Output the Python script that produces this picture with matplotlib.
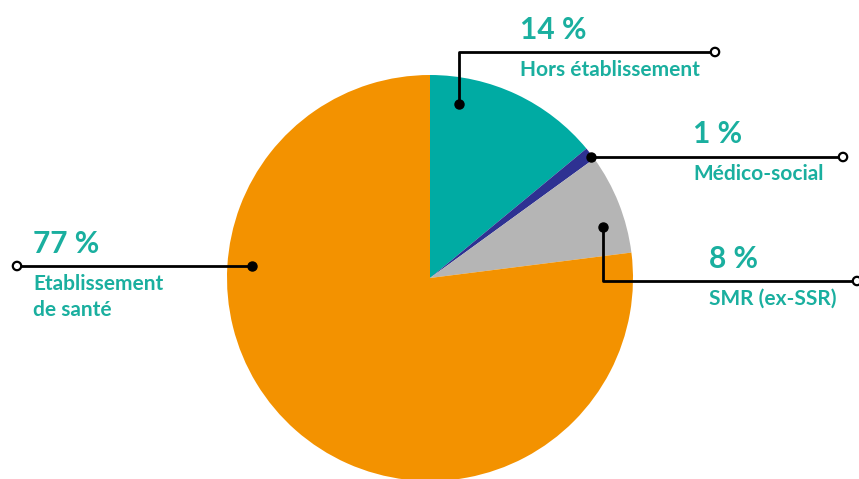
import matplotlib.pyplot as plt
from matplotlib.patches import Circle

# Données
categories = ["Hors établissement", "Médico-social", "SMR (ex-SSR)", "Etablissement\nde santé"]
parts = [14, 1, 8, 77]
couleurs = ["#00aba3", "#2e3192", "#b5b5b5", "#f39200"]

W, H = 859, 479
texte_col = "#1aaf9f"

fig = plt.figure(figsize=(W / 100, H / 100), dpi=100)
ax = fig.add_axes([0, 0, 1, 1])
ax.set_aspect("equal")

cx, cy, r = 430, H - 278, 203
ax.pie(parts, colors=couleurs, startangle=90, counterclock=False,
       center=(cx, cy), radius=r, frame=True,
       wedgeprops=dict(linewidth=0))
ax.set_xlim(0, W)
ax.set_ylim(0, H)
ax.axis("off")

# lignes de rappel : point plein, coude, cercle ouvert + position des textes
rappels = [
    dict(pts=[(459, 104), (459, 52), (715, 52)], txt=(520, 30), lab=(520, 70)),
    dict(pts=[(591, 157), (843, 157)], txt=(693, 134), lab=(693, 174)),
    dict(pts=[(603, 227), (603, 281), (857, 281)], txt=(709, 259), lab=(709, 299)),
    dict(pts=[(252, 266), (17, 266)], txt=(33, 244), lab=(33, 284)),
]


def yy(y):
    return H - y


for cat, p, rp in zip(categories, parts, rappels):
    xs = [x for x, _ in rp["pts"]]
    ys = [yy(y) for _, y in rp["pts"]]
    ax.plot(xs, ys, color="black", lw=2, solid_capstyle="butt", zorder=5)
    ax.plot(xs[0], ys[0], "o", ms=6.5, color="black", zorder=6)
    ax.add_patch(Circle((xs[-1], ys[-1]), 4.2, facecolor="white",
                        edgecolor="black", lw=1.6, zorder=7, clip_on=False))
    ax.text(rp["txt"][0], yy(rp["txt"][1]), f"{p} %", color=texte_col,
            fontsize=21.5, fontweight="bold", family="Lato", va="center", ha="left")
    for i, ligne in enumerate(cat.split("\n")):
        ax.text(rp["lab"][0], yy(rp["lab"][1] + 26 * i), ligne, color=texte_col,
                fontsize=15, fontweight="bold", family="Lato",
                va="center", ha="left")

fig.savefig("out.png", dpi=100)
